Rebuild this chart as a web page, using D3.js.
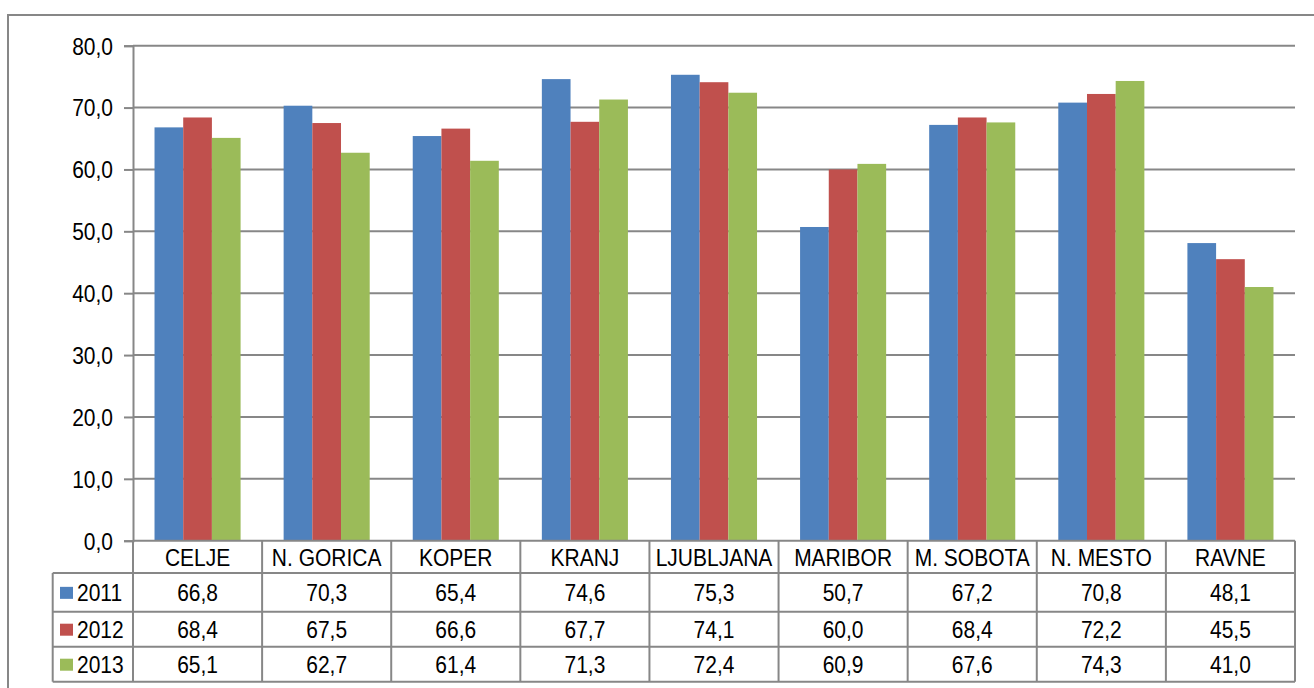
<!DOCTYPE html>
<html>
<head>
<meta charset="utf-8">
<script src="https://cdn.jsdelivr.net/npm/d3@7"></script>
<style>
  html, body { margin: 0; padding: 0; background: #fff; }
  svg { display: block; }
  text { font-family: "Liberation Sans", Arial, sans-serif; fill: #000; }
</style>
</head>
<body>
<svg id="chart" width="1314" height="688"></svg>
<script>
// Regions (categories) and series
const categories = ["CELJE", "N. GORICA", "KOPER", "KRANJ", "LJUBLJANA", "MARIBOR", "M. SOBOTA", "N. MESTO", "RAVNE"];
const seriesNames = ["2011", "2012", "2013"];
const values2011 = [66.8, 70.3, 65.4, 74.6, 75.3, 50.7, 67.2, 70.8, 48.1];
const values2012 = [68.4, 67.5, 66.6, 67.7, 74.1, 60.0, 68.4, 72.2, 45.5];
const values2013 = [65.1, 62.7, 61.4, 71.3, 72.4, 60.9, 67.6, 74.3, 41.0];
const yTicks = [0, 10, 20, 30, 40, 50, 60, 70, 80];
const colors = ["#4F81BD", "#C0504D", "#9BBB59"];

const seriesValues = [values2011, values2012, values2013];
const fmt = v => d3.format(".1f")(v).replace(".", ",");

const svg = d3.select("#chart");
const grey = "#878787";

// Layout
const plotLeft = 133, plotRight = 1295, plotTop = 45.7, plotBottom = 540.7;
const tableLeft = 52.7;
const rowLines = [540.7, 573, 611.7, 646.7, 681.7];

const x = d3.scaleBand().domain(categories).range([plotLeft, plotRight]).paddingInner(0).paddingOuter(0);
const x1 = d3.scaleBand().domain(seriesNames).range([0, x.bandwidth()]).paddingInner(0).paddingOuter(0.75);
const y = d3.scaleLinear().domain([0, 80]).range([plotBottom, plotTop]);

// Outer chart frame
svg.append("rect")
  .attr("x", 8).attr("y", 15)
  .attr("width", 1330).attr("height", 700)
  .attr("fill", "none").attr("stroke", grey).attr("stroke-width", 2);

// Text helper: slightly tall glyphs
function label(g, tx, ty, str, anchor) {
  g.append("text")
    .attr("transform", `translate(${tx},${ty}) scale(1,1.12)`)
    .attr("text-anchor", anchor || "middle")
    .attr("dominant-baseline", "central")
    .attr("font-size", 21)
    .text(str);
}

// Gridlines
const grid = svg.append("g");
grid.selectAll("line")
  .data(yTicks.filter(t => t > 0))
  .join("line")
  .attr("x1", plotLeft).attr("x2", plotRight)
  .attr("y1", d => y(d)).attr("y2", d => y(d))
  .attr("stroke", grey).attr("stroke-width", 2);

// Y axis
const yAxis = svg.append("g")
  .attr("transform", `translate(${plotLeft},0)`)
  .call(d3.axisLeft(y).tickValues(yTicks).tickSize(9).tickFormat(() => ""));
yAxis.select(".domain").attr("stroke", grey).attr("stroke-width", 2);
yAxis.selectAll(".tick line").attr("stroke", grey).attr("stroke-width", 2);

const yLabels = svg.append("g");
yTicks.forEach(t => label(yLabels, 113, y(t) + 1, fmt(t), "end"));

// Bars
const bars = svg.append("g");
seriesNames.forEach((s, si) => {
  bars.append("g")
    .attr("fill", colors[si])
    .selectAll("rect")
    .data(categories.map((c, ci) => ({ c, v: seriesValues[si][ci] })))
    .join("rect")
    .attr("x", d => x(d.c) + x1(s))
    .attr("width", x1.bandwidth())
    .attr("y", d => y(d.v))
    .attr("height", d => y(0) - y(d.v));
});

// Data table
const table = svg.append("g");
// horizontal lines
rowLines.forEach((ry, i) => {
  table.append("line")
    .attr("x1", i === 0 ? plotLeft : tableLeft).attr("x2", plotRight)
    .attr("y1", ry).attr("y2", ry)
    .attr("stroke", grey).attr("stroke-width", 2);
});
// vertical lines
const colEdges = categories.map(c => x(c)).concat([plotRight]);
colEdges.forEach(cx => {
  table.append("line")
    .attr("x1", cx).attr("x2", cx)
    .attr("y1", plotBottom).attr("y2", rowLines[4])
    .attr("stroke", grey).attr("stroke-width", 2);
});
table.append("line")
  .attr("x1", tableLeft).attr("x2", tableLeft)
  .attr("y1", rowLines[1]).attr("y2", rowLines[4])
  .attr("stroke", grey).attr("stroke-width", 2);

// category header
categories.forEach(c => label(table, x(c) + x.bandwidth() / 2, (rowLines[0] + rowLines[1]) / 2 + 1, c));

// series rows
seriesNames.forEach((s, si) => {
  const cy = (rowLines[si + 1] + rowLines[si + 2]) / 2 + 1;
  table.append("rect")
    .attr("x", 60).attr("y", cy - 6.5)
    .attr("width", 13).attr("height", 12)
    .attr("fill", colors[si]);
  label(table, 77, cy, s, "start");
  categories.forEach((c, ci) => label(table, x(c) + x.bandwidth() / 2, cy, fmt(seriesValues[si][ci])));
});
</script>
</body>
</html>
